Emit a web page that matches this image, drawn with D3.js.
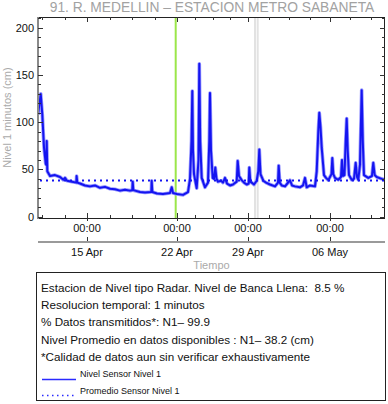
<!DOCTYPE html>
<html><head><meta charset="utf-8">
<script src="https://cdn.jsdelivr.net/npm/d3@7"></script>
<style>
html,body{margin:0;padding:0;background:#fff;}
text{font-family:"Liberation Sans",Arial,Helvetica,sans-serif;white-space:pre;}
</style></head>
<body><svg id="c" width="388" height="404"></svg>
<script>
const title = "91. R. MEDELLIN \u2013 ESTACION METRO SABANETA";
const yLabel = "Nivel 1 minutos (cm)";
const xLabel = "Tiempo";
const yTicks = [0, 50, 100, 150, 200];
const majorDates = ["2024-04-15 00:00", "2024-04-22 00:00", "2024-04-29 00:00", "2024-05-06 00:00"];
const rangeDates = ["2024-04-11 04:30", "2024-05-10 16:45"];
const markerGreen = "2024-04-21 21:34";
const markerGray = ["2024-04-29 14:20", "2024-04-29 19:52"];
const meanLevel = 38.2;
const infoLines = [
  "Estacion de Nivel tipo Radar. Nivel de Banca Llena:  8.5 %",
  "Resolucion temporal: 1 minutos",
  "% Datos transmitidos*: N1\u2013 99.9",
  "Nivel Promedio en datos disponibles : N1\u2013 38.2 (cm)",
  "*Calidad de datos aun sin verificar exhaustivamente"
];
const legendLabels = ["Nivel Sensor Nivel 1", "Promedio Sensor Nivel 1"];
const levelSeries = [
["2024-04-11 04:32",108],["2024-04-11 09:35",130],["2024-04-11 12:33",108],["2024-04-11 15:44",73],
["2024-04-11 18:54",56],["2024-04-11 19:50",55],["2024-04-11 20:47",80],["2024-04-11 21:53",48],
["2024-04-12 02:56",43],["2024-04-12 12:16",44],["2024-04-12 21:36",42],["2024-04-13 03:46",39],
["2024-04-13 06:56",41],["2024-04-13 10:40",38],["2024-04-13 20:00",37],["2024-04-14 04:02",36],
["2024-04-14 04:35",43],["2024-04-14 05:54",36],["2024-04-14 10:57",35],["2024-04-14 20:16",33],
["2024-04-15 05:36",32],["2024-04-15 14:56",33],["2024-04-16 00:16",30.5],["2024-04-16 09:36",31.5],
["2024-04-16 18:56",29.5],["2024-04-17 04:16",29],["2024-04-17 13:36",27.5],["2024-04-17 22:56",28.5],
["2024-04-18 08:16",27.5],["2024-04-18 12:33",28],["2024-04-18 13:18",37],["2024-04-18 14:25",28],
["2024-04-19 02:56",26],["2024-04-19 12:16",25.5],["2024-04-20 00:02",26],["2024-04-20 00:46",38],
["2024-04-20 01:54",26],["2024-04-20 10:40",24.5],["2024-04-20 21:52",24],["2024-04-21 10:56",25],
["2024-04-21 14:07",31],["2024-04-21 16:32",25],["2024-04-22 00:00",24],["2024-04-22 14:12",23],
["2024-04-23 02:01",26],["2024-04-23 06:46",40],["2024-04-23 10:19",80],["2024-04-23 12:12",133],
["2024-04-23 13:51",70],["2024-04-23 16:13",45],["2024-04-23 22:36",30],["2024-04-24 02:52",60],
["2024-04-24 04:46",162],["2024-04-24 06:53",80],["2024-04-24 10:26",41],["2024-04-24 18:15",31],
["2024-04-25 01:21",36],["2024-04-25 04:26",80],["2024-04-25 06:04",131],["2024-04-25 08:27",70],
["2024-04-25 12:29",41],["2024-04-25 15:33",40],["2024-04-25 18:37",52],["2024-04-25 21:28",40],
["2024-04-26 01:00",37],["2024-04-26 08:07",38],["2024-04-26 12:50",36],["2024-04-26 17:34",41],
["2024-04-26 22:19",35],["2024-04-27 05:24",33],["2024-04-27 12:30",34],["2024-04-27 21:15",37],
["2024-04-27 23:37",59],["2024-04-28 02:43",43],["2024-04-28 09:06",38.6],["2024-04-28 14:32",36],
["2024-04-28 20:56",34],["2024-04-29 01:26",35],["2024-04-29 02:40",52],["2024-04-29 04:42",37],
["2024-04-29 07:35",36],["2024-04-29 12:17",34],["2024-04-29 17:50",38],["2024-04-29 21:06",48],
["2024-04-29 23:10",71],["2024-04-30 01:36",45],["2024-04-30 07:21",38],["2024-04-30 12:53",36],
["2024-04-30 21:04",34],["2024-05-01 07:19",32],["2024-05-01 13:28",36],["2024-05-01 14:54",54],
["2024-05-01 16:57",36],["2024-05-01 21:03",33],["2024-05-02 03:49",32],["2024-05-02 14:02",38.5],
["2024-05-02 18:09",33],["2024-05-03 00:17",32],["2024-05-03 10:32",31],["2024-05-03 16:41",33],
["2024-05-03 20:47",41],["2024-05-04 00:16",31],["2024-05-04 07:02",33],["2024-05-04 17:17",32],
["2024-05-04 20:46",48],["2024-05-05 00:01",90],["2024-05-05 02:05",110],["2024-05-05 04:32",95],
["2024-05-05 07:00",73],["2024-05-05 11:43",44],["2024-05-05 15:49",41],["2024-05-05 20:31",38.6],
["2024-05-06 03:04",45],["2024-05-06 04:42",62],["2024-05-06 06:46",45],["2024-05-06 10:15",41],
["2024-05-06 17:00",39],["2024-05-06 22:32",42],["2024-05-07 00:35",60],["2024-05-07 02:38",43],
["2024-05-07 05:42",44],["2024-05-07 08:10",80],["2024-05-07 10:13",104],["2024-05-07 12:16",70],
["2024-05-07 14:56",44],["2024-05-07 20:27",39],["2024-05-08 01:10",40],["2024-05-08 04:39",57],
["2024-05-08 07:19",42],["2024-05-08 09:59",39],["2024-05-08 13:28",55],["2024-05-08 16:57",134],
["2024-05-08 19:12",80],["2024-05-08 21:39",44],["2024-05-09 06:29",41],["2024-05-09 14:02",43],
["2024-05-09 16:42",57],["2024-05-09 19:35",44],["2024-05-09 23:41",42],["2024-05-10 09:56",40],
["2024-05-10 16:41",39]
];

const parse = d3.timeParse("%Y-%m-%d %H:%M");
const data = levelSeries.map(d => ({t: parse(d[0]), v: d[1]}));
const majors = majorDates.map(parse);
const [t0, t1] = rangeDates.map(parse);

const L = 38, R = 385, T = 17, B = 218;
const svg = d3.select("#c");

const x = d3.scaleTime()
  .domain([t0, ...majors, t1])
  .range([L, 87, 177, 248, 330, R]);
const y = d3.scaleLinear().domain([-1.5, 211.5]).range([B, T]);

// minor x ticks at quarter weeks
const H = 3600 * 1000;
const minorX = [];
for (let k = -3; k <= 3 * 4 + 3; k++) {
  if (k % 4 === 0) continue;
  const d = new Date(majors[0].getTime() + k * 42 * H);
  if (d > t0 && d < t1) minorX.push(d);
}
const minorY = d3.range(0, 211, 10).filter(v => v % 50 !== 0);

// markers
svg.append("line").attr("x1", x(parse(markerGreen))).attr("x2", x(parse(markerGreen)))
  .attr("y1", T).attr("y2", B).attr("stroke", "#9be64a").attr("stroke-width", 2);
markerGray.forEach(m => {
  svg.append("line").attr("x1", x(parse(m))).attr("x2", x(parse(m)))
    .attr("y1", T).attr("y2", B).attr("stroke", "#e2e2e2").attr("stroke-width", 2);
});

// clip
svg.append("clipPath").attr("id", "clip").append("rect")
  .attr("x", L).attr("y", T).attr("width", R - L).attr("height", B - T);

const line = d3.line().x(d => x(d.t)).y(d => y(d.v));
const g = svg.append("g").attr("clip-path", "url(#clip)");
g.append("path").datum(data).attr("d", line).attr("fill", "none")
  .attr("stroke", "#9a9aff").attr("stroke-width", 3.6).attr("stroke-linejoin", "round");
g.append("path").datum(data).attr("d", line).attr("fill", "none")
  .attr("stroke", "#1414f0").attr("stroke-width", 2).attr("stroke-linejoin", "round");
g.append("line").attr("x1", L + 2).attr("x2", R).attr("y1", y(meanLevel)).attr("y2", y(meanLevel))
  .attr("stroke", "#1414f0").attr("stroke-width", 2).attr("stroke-dasharray", "2,4");

// frame
const frame = svg.append("g").attr("stroke", "#222").attr("stroke-width", 1).attr("fill", "none");
frame.append("rect").attr("x", L + 0.5).attr("y", T + 0.5).attr("width", R - L - 1).attr("height", B - T);
svg.append("line").attr("x1", L).attr("x2", L).attr("y1", T).attr("y2", B + 1)
  .attr("stroke", "#8a8a8a").attr("stroke-width", 2);

// y ticks (left and right, inward)
const tk = svg.append("g").attr("stroke", "#333").attr("stroke-width", 1);
yTicks.forEach(v => {
  const yy = Math.round(y(v)) + 0.5;
  tk.append("line").attr("x1", L).attr("x2", L + 5).attr("y1", yy).attr("y2", yy);
  tk.append("line").attr("x1", R).attr("x2", R - 5).attr("y1", yy).attr("y2", yy);
});
minorY.forEach(v => {
  const yy = Math.round(y(v)) + 0.5;
  tk.append("line").attr("x1", L).attr("x2", L + 3).attr("y1", yy).attr("y2", yy);
  tk.append("line").attr("x1", R).attr("x2", R - 3).attr("y1", yy).attr("y2", yy);
});
// x ticks top/bottom
majors.forEach(d => {
  const xx = Math.round(x(d)) + 0.5;
  tk.append("line").attr("x1", xx).attr("x2", xx).attr("y1", B).attr("y2", B - 5);
  tk.append("line").attr("x1", xx).attr("x2", xx).attr("y1", T).attr("y2", T + 5);
  tk.append("line").attr("x1", xx).attr("x2", xx).attr("y1", B).attr("y2", B + 3);
});
minorX.forEach(d => {
  const xx = Math.round(x(d)) + 0.5;
  tk.append("line").attr("x1", xx).attr("x2", xx).attr("y1", B).attr("y2", B - 3);
  tk.append("line").attr("x1", xx).attr("x2", xx).attr("y1", T).attr("y2", T + 3);
});

// y tick labels
svg.append("g").selectAll("text").data(yTicks).join("text")
  .attr("x", L - 4).attr("y", v => y(v) + 4).attr("text-anchor", "end")
  .attr("font-size", 11).attr("fill", "#111").text(v => v);

// x labels
const fH = d3.timeFormat("%H:%M"), fD = d3.timeFormat("%d %b");
svg.append("g").selectAll("text").data(majors).join("text")
  .attr("x", d => x(d)).attr("y", 232).attr("text-anchor", "middle")
  .attr("font-size", 11).attr("fill", "#111").text(fH);
svg.append("line").attr("x1", L).attr("x2", R).attr("y1", 242).attr("y2", 242)
  .attr("stroke", "#9a9a9a").attr("stroke-width", 2);
majors.forEach(d => {
  svg.append("line").attr("x1", Math.round(x(d)) + 0.5).attr("x2", Math.round(x(d)) + 0.5)
    .attr("y1", 241).attr("y2", 237).attr("stroke", "#333");
});
svg.append("g").selectAll("text").data(majors).join("text")
  .attr("x", d => x(d)).attr("y", 256).attr("text-anchor", "middle")
  .attr("font-size", 11).attr("fill", "#111").text(fD);
svg.append("text").attr("x", (L + R) / 2).attr("y", 269).attr("text-anchor", "middle")
  .attr("font-size", 11).attr("fill", "#aaa").text(xLabel);

// title & y label
svg.append("text").attr("x", 212).attr("y", 12).attr("text-anchor", "middle")
  .attr("font-size", 13.8).attr("fill", "#a2a2a2").text(title);
svg.append("text").attr("transform", `translate(11,${(T + B) / 2}) rotate(-90)`)
  .attr("text-anchor", "middle").attr("font-size", 11).attr("fill", "#aaa").text(yLabel);

// info box
svg.append("rect").attr("x", 36.5).attr("y", 272.5).attr("width", 349).attr("height", 128)
  .attr("fill", "none").attr("stroke", "#222");
infoLines.forEach((s, i) => {
  svg.append("text").attr("x", 41).attr("y", 292 + i * 17.2)
    .attr("font-size", 11.7).attr("fill", "#111").text(s);
});
svg.append("line").attr("x1", 42).attr("x2", 76).attr("y1", 379.5).attr("y2", 379.5)
  .attr("stroke", "#2a2aff").attr("stroke-width", 1.4);
svg.append("line").attr("x1", 42).attr("x2", 76).attr("y1", 395.5).attr("y2", 395.5)
  .attr("stroke", "#2a2aff").attr("stroke-width", 1.4).attr("stroke-dasharray", "1.5,3.5");
legendLabels.forEach((s, i) => {
  svg.append("text").attr("x", 80).attr("y", 377 + i * 17)
    .attr("font-size", 9).attr("fill", "#111").text(s);
});
</script></body></html>
